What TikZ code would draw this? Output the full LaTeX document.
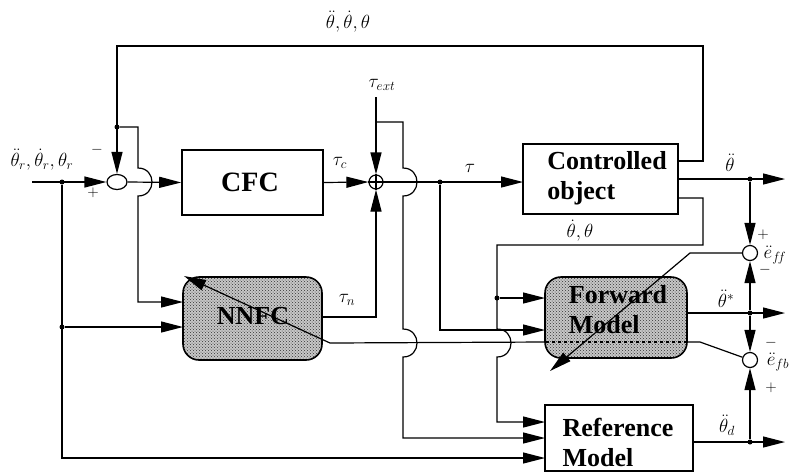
\RequirePackage{fix-cm}
\documentclass[tikz,border=0pt]{standalone}
\usepackage{fontspec}
\setmainfont{Liberation Serif}
\usetikzlibrary{arrows.meta,shapes.geometric,patterns}
\tikzset{
 ln/.style={line width=1.2pt},
 arr/.style={ln,-{Triangle[length=22pt,width=11pt]}},
 box/.style={draw,line width=1.6pt,rectangle,inner sep=0pt},
 rbox/.style={draw,line width=1.6pt,rounded corners=16pt,preaction={fill=black!22},pattern=crosshatch dots,pattern color=black!80,inner sep=0pt},
 btxt/.style={font=\fontsize{26}{30}\selectfont\bfseries,align=left,inner sep=0pt},
 lab/.style={font=\fontsize{19}{21}\selectfont,inner sep=0pt},
 sgn/.style={font=\fontsize{15}{17}\selectfont,inner sep=0pt},
 jdot/.style={circle,fill,inner sep=0pt,minimum size=5pt},
 sumc/.style={draw,circle,line width=1.2pt,inner sep=0pt,minimum size=15pt,fill=white},
}
\begin{document}
\begin{tikzpicture}[x=1pt,y=-1pt]
\path[use as bounding box,fill=white] (0,0) rectangle (794,475);
% blocks
\node[box,minimum width=141pt,minimum height=65pt] (cfc) at (252.5,182.5) {};
\node[btxt,font=\fontsize{28}{30}\selectfont\bfseries] (cfct) at (250,182) {CFC};
\node[box,minimum width=155pt,minimum height=70pt] (co) at (600.5,179) {};
\node[btxt] (cot) at (607,178) {Controlled\\object};
\node[rbox,minimum width=139pt,minimum height=83pt] (nn) at (252.5,318.5) {};
\node[btxt] (nnt) at (253,316) {NNFC};
\node[rbox,minimum width=142pt,minimum height=81pt] (fm) at (616,317.5) {};
\node[btxt] (fmt) at (618,310) {Forward\\Model};
\node[box,minimum width=148pt,minimum height=66pt] (rm) at (619,438) {};
\node[btxt] (rmt) at (618,442) {Reference\\Model};
% summing junctions
\node[draw,ellipse,ln,minimum width=20pt,minimum height=15pt,inner sep=0pt] (s1) at (117,182) {};
\node[sumc,minimum size=14pt] (op) at (376,182) {};
\draw[ln] (op.north) -- (op.south) (op.west) -- (op.east);
\node[sumc] (eff) at (750,253) {};
\node[sumc] (efb) at (750,360) {};
% junction dots
\node[jdot] (d0) at (62,182) {};
\node[jdot] (d1) at (62,327) {};
\node[jdot] (dfb) at (117,127) {};
\node[jdot] (dtau) at (440,182) {};
\node[jdot] (dth) at (497,298) {};
\node[jdot] (da) at (750,179) {};
\node[jdot] (db) at (750,313) {};
\node[jdot] (dc) at (750,442) {};
% ports and free ends
\coordinate (inS) at (32,182);
\coordinate (text) at (376,97);
\coordinate (textJ) at (376,122);
\coordinate (nnI1) at (183,302);
\coordinate (nnI2) at (183,327);
\coordinate (nnO) at (322,317);
\coordinate (coI) at (523,182);
\coordinate (coO) at (678,179);
\coordinate (coP1) at (678,161);
\coordinate (coP2) at (678,198);
\coordinate (fmI1) at (545,298);
\coordinate (fmI2) at (545,330);
\coordinate (fmO) at (687,313);
\coordinate (rmI1) at (545,422);
\coordinate (rmI2) at (545,438);
\coordinate (rmI3) at (545,458);
\coordinate (rmO) at (693,442);
\coordinate (oA) at (785,179);
\coordinate (oB) at (785,313);
\coordinate (oC) at (785,442);
\coordinate (fmTip) at (550,371);
\coordinate (nnTip) at (184,276);
% connectors
\draw[arr] (inS) -- (s1.west);
\draw[arr] (s1.east) -- (cfc.west);
\draw[arr] (cfc.east) -- (op.west);
\draw[arr] (text) -- (op.north);
\draw[arr] (op.east) -- (coI);
\draw[arr] (coP1) -- (703,161) -- (703,46) -- (117,46) -- (s1.north);
\draw[arr] (dfb) -- (138,127) -- (138,168) .. controls (156.7,168) and (156.7,196) .. (138,196) -- (138,302) -- (nnI1);
\draw[arr] (d1) -- (nnI2);
\draw[arr] (d0) -- (62,458) -- (rmI3);
\draw[arr] (nnO) -- (376,317) -- (op.south);
\draw[arr] (textJ) -- (403,122) -- (403,168) .. controls (421.7,168) and (421.7,196) .. (403,196) -- (403,329) .. controls (421.7,329) and (421.7,357) .. (403,357) -- (403,438) -- (rmI2);
\draw[arr] (dtau) -- (440,330) -- (fmI2);
\draw[arr] (coP2) -- (703,198) -- (703,245) -- (497,245) -- (497,329) .. controls (515.7,329) and (515.7,357) .. (497,357) -- (497,422) -- (rmI1);
\draw[arr] (dth) -- (fmI1);
\draw[arr] (coO) -- (oA);
\draw[arr] (da) -- (eff.north);
\draw[arr] (fmO) -- (oB);
\draw[arr] (db) -- (eff.south);
\draw[arr] (db) -- (efb.north);
\draw[arr] (rmO) -- (oC);
\draw[arr] (dc) -- (efb.south);
% learning signals
\draw[arr] (eff.west) -- (690,253) -- (fmTip);
\draw[ln] (efb.160) -- (700,342) -- (687,342);
\draw[ln,dashed] (687,342) -- (545,342);
\draw[arr] (545,342) -- (330,343) -- (nnTip);
% labels
\node[lab] (l1) at (348,22) {$\ddot{\theta},\dot{\theta},\theta$};
\node[lab] (l2) at (42,160) {$\ddot{\theta}_r,\dot{\theta}_r,\theta_r$};
\node[lab] (l3) at (340,163) {$\tau_c$};
\node[lab] (l4) at (382,85) {$\tau_{ext}$};
\node[lab] (l5) at (470,168) {$\tau$};
\node[lab] (l6) at (347,300) {$\tau_n$};
\node[lab] (l7) at (580,231) {$\dot{\theta},\theta$};
\node[lab] (l8) at (730,163) {$\ddot{\theta}$};
\node[lab] (l9) at (726,299) {$\ddot{\theta}^{*}$};
\node[lab] (l10) at (727,425) {$\ddot{\theta}_d$};
\node[lab] (l11) at (775,255) {$\ddot{e}_{f\!f}$};
\node[lab] (l12) at (778,362) {$\ddot{e}_{fb}$};
\node[sgn] (p1) at (97,150) {$-$};
\node[sgn] (p2) at (93,193) {$+$};
\node[sgn] (p3) at (763,235) {$+$};
\node[sgn] (p4) at (765,270) {$-$};
\node[sgn] (p5) at (771,343) {$-$};
\node[sgn] (p6) at (771,388) {$+$};
\end{tikzpicture}
\end{document}
